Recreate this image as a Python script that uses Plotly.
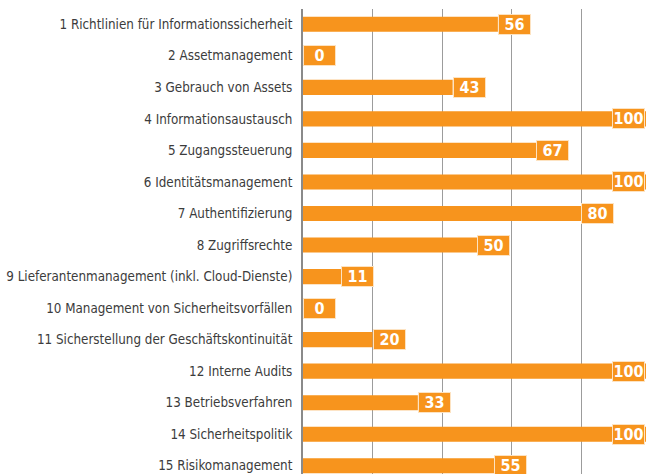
import plotly.graph_objects as go

categories = [
    "1 Richtlinien für Informationssicherheit",
    "2 Assetmanagement",
    "3 Gebrauch von Assets",
    "4 Informationsaustausch",
    "5 Zugangssteuerung",
    "6 Identitätsmanagement",
    "7 Authentifizierung",
    "8 Zugriffsrechte",
    "9 Lieferantenmanagement (inkl. Cloud-Dienste)",
    "10 Management von Sicherheitsvorfällen",
    "11 Sicherstellung der Geschäftskontinuität",
    "12 Interne Audits",
    "13 Betriebsverfahren",
    "14 Sicherheitspolitik",
    "15 Risikomanagement",
]
values = [56, 0, 43, 100, 67, 100, 80, 50, 11, 0, 20, 100, 33, 100, 55]

ORANGE = "#F7941D"
FONT = "DejaVu Sans Condensed, Open Sans, sans-serif"
X_MAX = 98.56

fig = go.Figure()
fig.add_trace(go.Bar(
    x=values, y=categories, orientation="h",
    marker=dict(color=ORANGE, line=dict(width=0)),
    width=0.48, hoverinfo="skip",
))

annotations = []
for cat, v in zip(categories, values):
    near_edge = v >= 90
    ann = dict(
        y=cat, yref="y",
        text=f"<b>{v}</b>", showarrow=False,
        yanchor="middle",
        bgcolor=ORANGE, bordercolor="#FDE3C2", borderwidth=1, borderpad=0,
        width=31, height=19,
        font=dict(family=FONT, size=16, color="white"),
    )
    if near_edge:
        ann.update(x=1, xref="paper", xanchor="right", xshift=-1)
    else:
        ann.update(x=v, xref="x", xanchor="left")
    annotations.append(ann)

fig.update_layout(
    width=648, height=474,
    margin=dict(l=303, r=2, t=9, b=0),
    paper_bgcolor="white", plot_bgcolor="white",
    showlegend=False,
    annotations=annotations,
    xaxis=dict(
        range=[0, X_MAX], dtick=20, tick0=0,
        showgrid=True, gridcolor="#9c9c9c", gridwidth=1,
        showticklabels=False, zeroline=False, showline=False, ticks="",
        automargin=False,
    ),
    yaxis=dict(
        type="category", categoryorder="array", categoryarray=categories,
        range=[14.26, -0.485],
        showgrid=False, zeroline=False,
        showline=True, linecolor="#8a8a8a", linewidth=2,
        ticks="", ticklabelstandoff=6, automargin=False,
        tickfont=dict(family=FONT, size=13.3, color="#3c3c3c"),
    ),
)

fig.write_html(
    "out.html",
    config={"displayModeBar": False},
    post_script="document.body.style.margin='0';document.body.style.overflow='hidden';",
)
